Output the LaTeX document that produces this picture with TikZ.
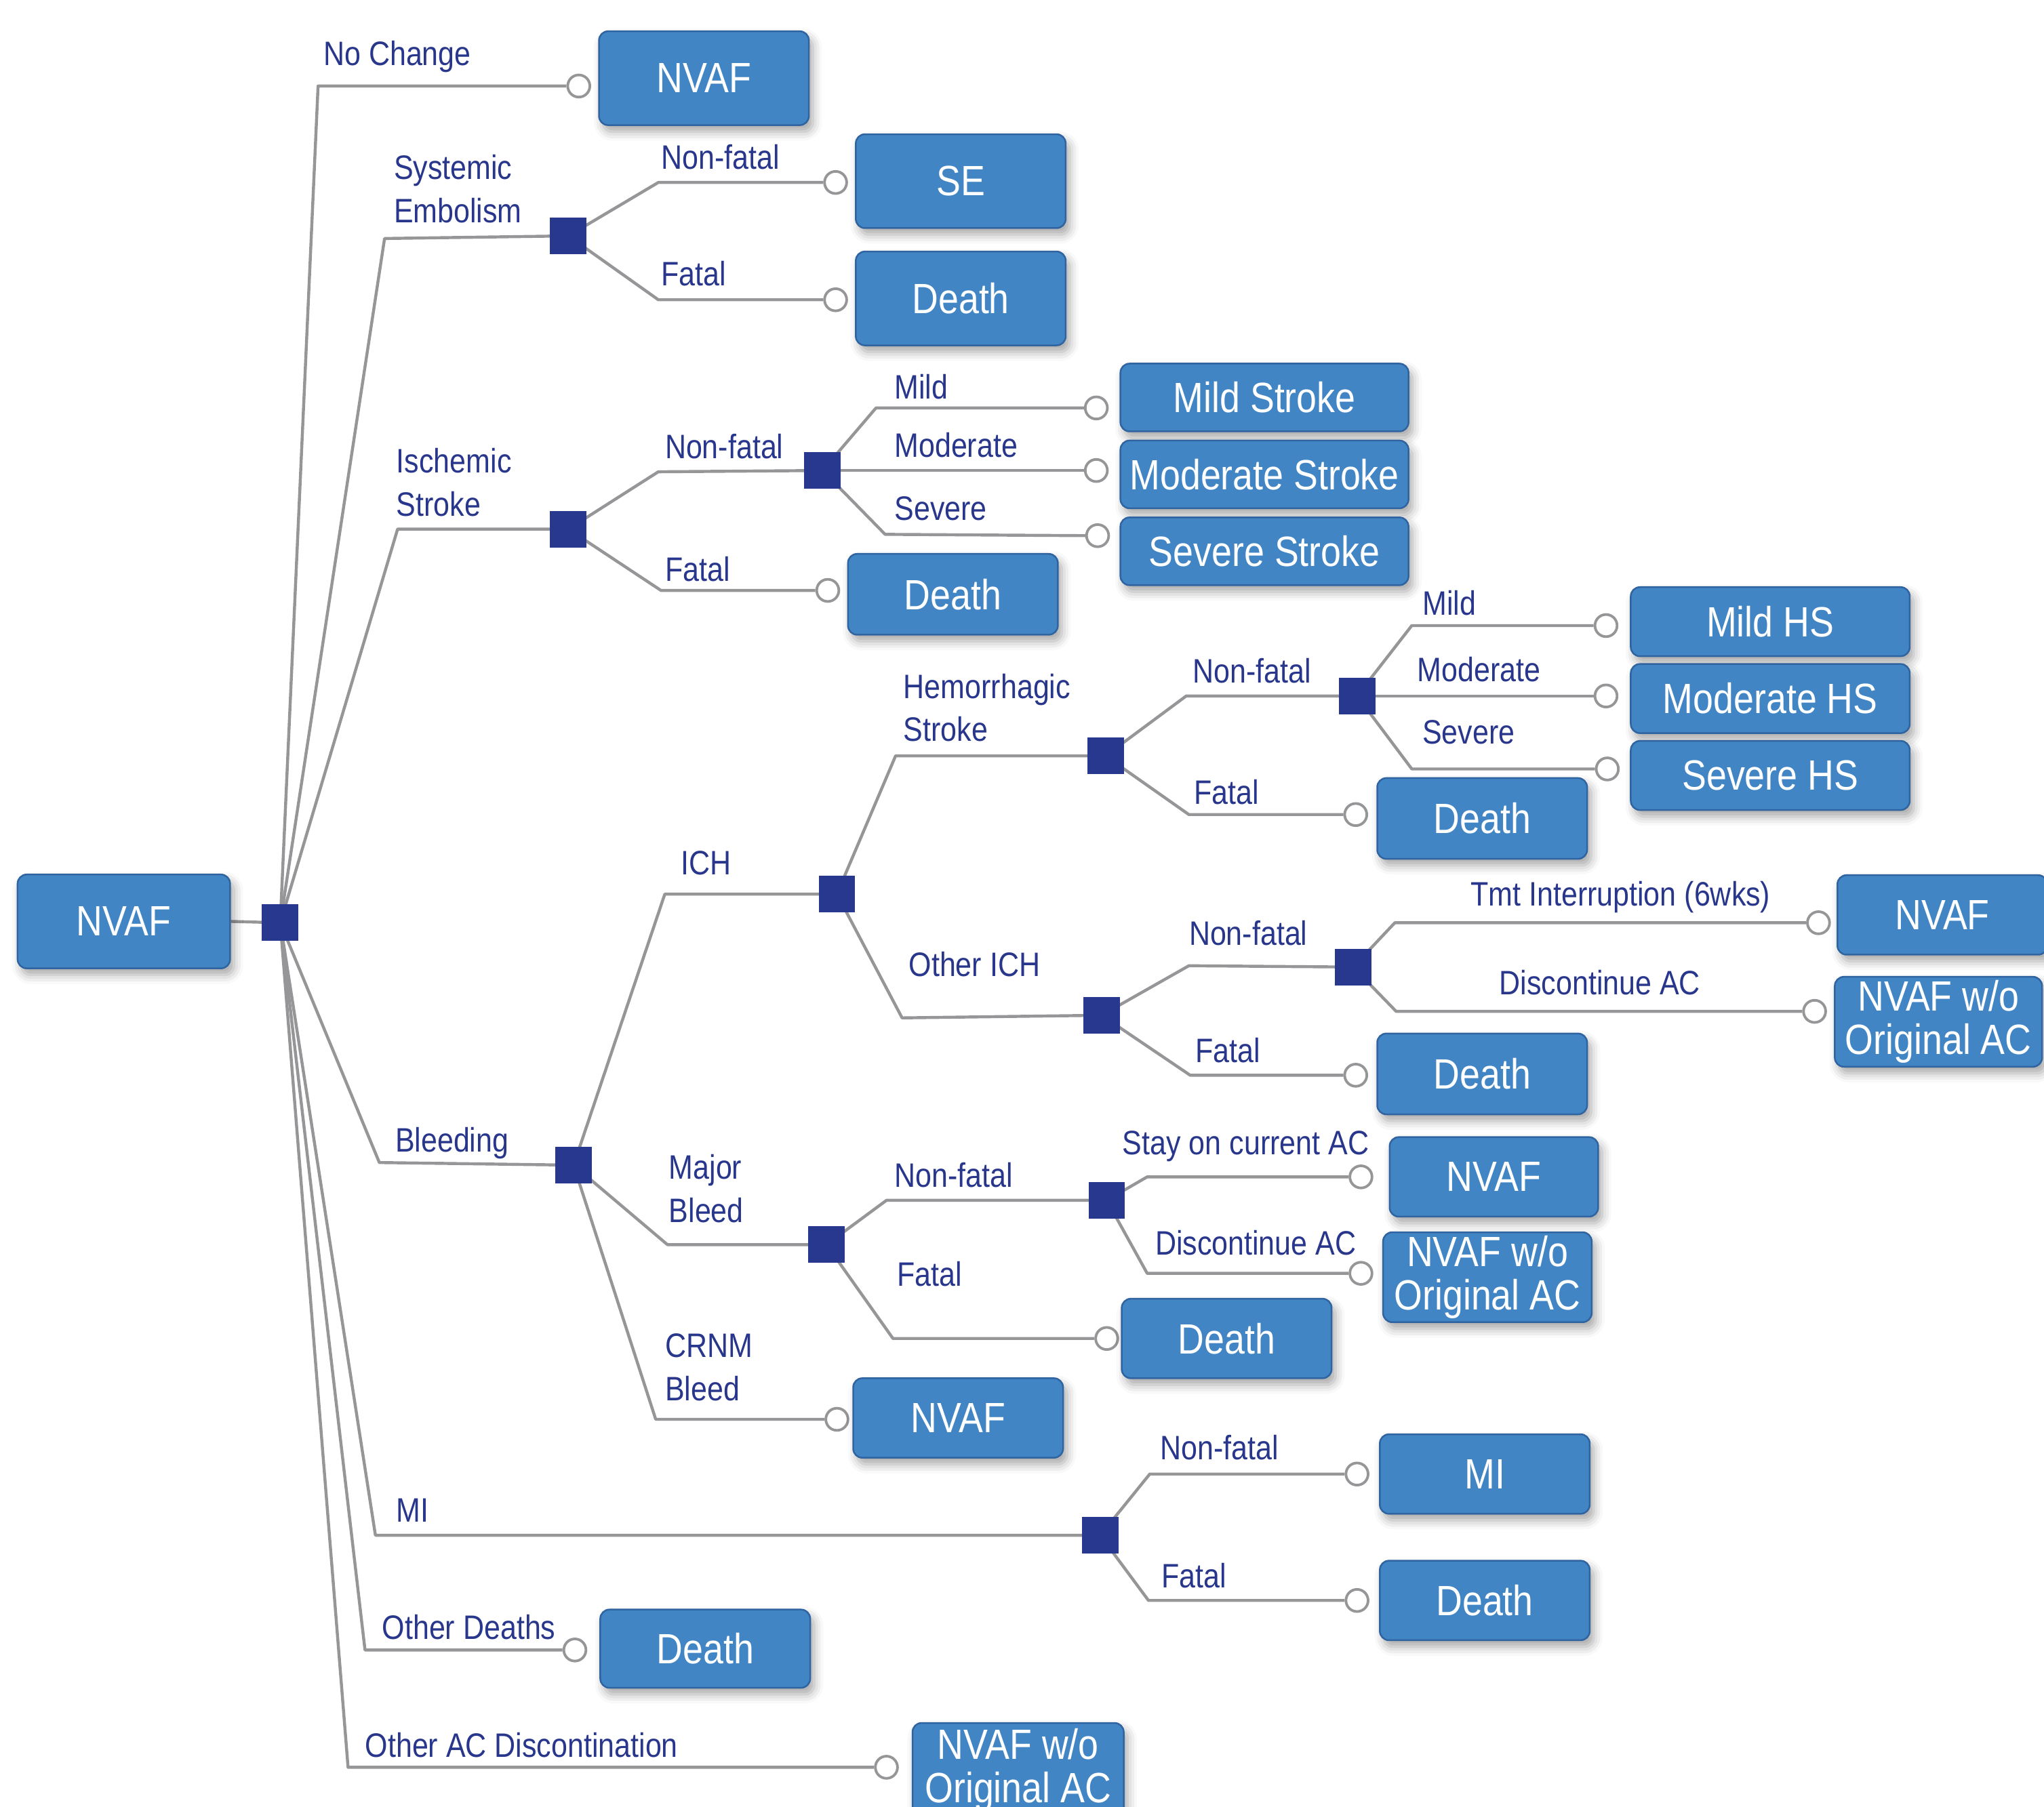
\documentclass[tikz,border=0pt]{standalone}
\usepackage{fontspec}
\setmainfont{Liberation Sans}[FakeStretch=0.86]
\usetikzlibrary{backgrounds,shadows.blur}
\definecolor{boxfill}{RGB}{65,133,197}
\definecolor{boxline}{RGB}{48,100,160}
\definecolor{decfill}{RGB}{40,56,143}
\definecolor{labcol}{RGB}{40,54,140}
\definecolor{edgecol}{RGB}{150,150,153}
\newcommand\lblfnt{\fontsize{26}{33}\selectfont}
\newcommand\bxfnt{\fontsize{32.5}{33}\selectfont}
\begin{document}
\begin{tikzpicture}[x=1pt,y=-1pt,
  box/.style={draw=boxline, line width=1.3pt, fill=boxfill, rounded corners=7pt,
    text=white, font=\bxfnt, align=center, inner sep=2pt,
    blur shadow={shadow xshift=3pt, shadow yshift=-5pt, shadow blur radius=7pt, shadow opacity=35}},
  wh/.style 2 args={minimum width=#1pt, minimum height=#2pt},
  dec/.style={fill=decfill, minimum size=28pt, inner sep=0pt},
  chance/.style={circle, draw=edgecol, line width=2pt, fill=white, minimum size=17pt, inner sep=0pt},
  lab/.style={text=labcol, font=\lblfnt, inner sep=0pt, anchor=base west},
  labtwo/.style={text=labcol, font=\lblfnt, inner sep=0pt, anchor=west, align=left},
  edge/.style={draw=edgecol, line width=2.3pt, line join=round},
]
\useasboundingbox (0,0) rectangle (1568,1386);
\clip (0,0) rectangle (1568,1386);

% root
\node[box, wh={163}{72}] (root) at (95,707) {NVAF};
\node[dec] (r) at (215,708) {};

% No change
\coordinate (kNC) at (244,66);
\node[chance] (cNC) at (444,66) {};
\node[box, wh={161}{72}] (bNC) at (540,60) {NVAF};
\node[lab] (lNC) at (248,50) {No Change};

% Systemic embolism
\coordinate (kSE) at (295,183);
\node[dec] (sSE) at (436,181) {};
\node[labtwo] (lSE) at (302,145) {Systemic\\Embolism};
\coordinate (kSEn) at (505,140);
\coordinate (kSEf) at (505,230);
\node[chance] (cSEn) at (641,140) {};
\node[chance] (cSEf) at (641,230) {};
\node[lab] (lSEn) at (507,130) {Non-fatal};
\node[lab] (lSEf) at (507,219) {Fatal};
\node[box, wh={161}{72}] (bSEn) at (737,139) {SE};
\node[box, wh={161}{72}] (bSEf) at (737,229) {Death};

% Ischemic stroke
\coordinate (kIS) at (305,406);
\node[dec] (sIS) at (436,406) {};
\node[labtwo] (lIS) at (304,370) {Ischemic\\Stroke};
\coordinate (kISn) at (505,362);
\node[dec] (sISn) at (631,361) {};
\node[lab] (lISn) at (510,352) {Non-fatal};
\coordinate (kISf) at (507,453);
\node[chance] (cISf) at (635,453) {};
\node[lab] (lISf) at (510,446) {Fatal};
\node[box, wh={161}{62}] (bISf) at (731,456) {Death};
\coordinate (kISm) at (672,313);
\node[chance] (cISm) at (841,313) {};
\node[lab] (lISm) at (686,306) {Mild};
\node[chance] (cISo) at (841,361) {};
\node[lab] (lISo) at (686,351) {Moderate};
\coordinate (kISs) at (679,410);
\node[chance] (cISs) at (842,411) {};
\node[lab] (lISs) at (686,399) {Severe};
\node[box, wh={221}{52}] (bISm) at (970,305) {Mild Stroke};
\node[box, wh={221}{52}] (bISo) at (970,364) {Moderate Stroke};
\node[box, wh={221}{52}] (bISs) at (970,423) {Severe Stroke};

% Bleeding
\coordinate (kBl) at (291,892);
\node[dec] (sBl) at (440,894) {};
\node[lab] (lBl) at (303,884) {Bleeding};

% ICH
\coordinate (kICH) at (510,686);
\node[dec] (sICH) at (642,686) {};
\node[lab] (lICH) at (522,671) {ICH};

% Hemorrhagic stroke
\coordinate (kHS) at (687,580);
\node[dec] (sHS) at (848,580) {};
\node[labtwo] (lHS) at (693,543) {Hemorrhagic\\Stroke};
\coordinate (kHSn) at (910,534);
\node[dec] (sHSn) at (1041,534) {};
\node[lab] (lHSn) at (915,524) {Non-fatal};
\coordinate (kHSf) at (912,625);
\node[chance] (cHSf) at (1040,625) {};
\node[lab] (lHSf) at (916,617) {Fatal};
\node[box, wh={161}{62}] (bHSf) at (1137,628) {Death};
\coordinate (kHSm) at (1083,480);
\node[chance] (cHSm) at (1232,480) {};
\node[lab] (lHSm) at (1091,472) {Mild};
\node[chance] (cHSo) at (1232,534) {};
\node[lab] (lHSo) at (1087,523) {Moderate};
\coordinate (kHSs) at (1083,590);
\node[chance] (cHSs) at (1233,590) {};
\node[lab] (lHSs) at (1091,571) {Severe};
\node[box, wh={214}{53}] (bHSm) at (1358,477) {Mild HS};
\node[box, wh={214}{53}] (bHSo) at (1358,536) {Moderate HS};
\node[box, wh={214}{53}] (bHSs) at (1358,595) {Severe HS};

% Other ICH
\coordinate (kOI) at (692,781);
\node[dec] (sOI) at (845,779) {};
\node[lab] (lOI) at (697,749) {Other ICH};
\coordinate (kOIn) at (912,741);
\node[dec] (sOIn) at (1038,742) {};
\node[lab] (lOIn) at (912,725) {Non-fatal};
\coordinate (kOIf) at (913,825);
\node[chance] (cOIf) at (1040,825) {};
\node[lab] (lOIf) at (917,815) {Fatal};
\node[box, wh={161}{62}] (bOIf) at (1137,824) {Death};
\coordinate (kOIt) at (1070,708);
\node[chance] (cOIt) at (1395,708) {};
\node[lab] (lOIt) at (1128,695) {Tmt Interruption (6wks)};
\coordinate (kOId) at (1071,776);
\node[chance] (cOId) at (1392,776) {};
\node[lab] (lOId) at (1150,763) {Discontinue AC};
\node[box, wh={161}{61}] (bOIt) at (1490,702) {NVAF};
\node[box, wh={159}{69}] (bOId) at (1487,784) {NVAF w/o\\Original AC};

% Major bleed
\coordinate (kMB) at (512,955);
\node[dec] (sMB) at (634,955) {};
\node[labtwo] (lMB) at (513,912) {Major\\Bleed};
\coordinate (kMBn) at (680,921);
\node[dec] (sMBn) at (849,921) {};
\node[lab] (lMBn) at (686,911) {Non-fatal};
\coordinate (kMBf) at (685,1027);
\node[chance] (cMBf) at (849,1027) {};
\node[lab] (lMBf) at (688,987) {Fatal};
\node[box, wh={161}{61}] (bMBf) at (941,1027) {Death};
\coordinate (kMBs) at (880,903);
\node[chance] (cMBs) at (1044,903) {};
\node[lab] (lMBs) at (861,886) {Stay on current AC};
\coordinate (kMBd) at (880,977);
\node[chance] (cMBd) at (1044,977) {};
\node[lab] (lMBd) at (886,963) {Discontinue AC};
\node[box, wh={160}{61}] (bMBs) at (1146,903) {NVAF};
\node[box, wh={160}{69}] (bMBd) at (1141,980) {NVAF w/o\\Original AC};

% CRNM bleed
\coordinate (kCR) at (503,1089);
\node[chance] (cCR) at (642,1089) {};
\node[labtwo] (lCR) at (510,1049) {CRNM\\Bleed};
\node[box, wh={161}{61}] (bCR) at (735,1088) {NVAF};

% MI
\coordinate (kMI) at (288,1178);
\node[dec] (sMI) at (844,1178) {};
\node[lab] (lMI) at (304,1168) {MI};
\coordinate (kMIn) at (882,1131);
\node[chance] (cMIn) at (1041,1131) {};
\node[lab] (lMIn) at (890,1120) {Non-fatal};
\node[box, wh={161}{61}] (bMIn) at (1139,1131) {MI};
\coordinate (kMIf) at (881,1228);
\node[chance] (cMIf) at (1041,1228) {};
\node[lab] (lMIf) at (891,1218) {Fatal};
\node[box, wh={161}{61}] (bMIf) at (1139,1228) {Death};

% Other deaths
\coordinate (kOD) at (280,1266);
\node[chance] (cOD) at (441,1266) {};
\node[lab] (lOD) at (293,1258) {Other Deaths};
\node[box, wh={161}{60}] (bOD) at (541,1265) {Death};

% Other AC discontinuation
\coordinate (kOA) at (267,1356);
\node[chance] (cOA) at (680,1356) {};
\node[lab] (lOA) at (280,1348) {Other AC Discontination};
\node[box, wh={162}{72}] (bOA) at (781,1358) {NVAF w/o\\Original AC};

\begin{scope}[on background layer]
\draw[edge] (root.east) -- (r.center);
\draw[edge] (r.center) -- (kNC) -- (cNC.west);
\draw[edge] (r.center) -- (kSE) -- (sSE.center);
\draw[edge] (r.center) -- (kIS) -- (sIS.center);
\draw[edge] (r.center) -- (kBl) -- (sBl.center);
\draw[edge] (r.center) -- (kMI) -- (sMI.center);
\draw[edge] (r.center) -- (kOD) -- (cOD.west);
\draw[edge] (r.center) -- (kOA) -- (cOA.west);
% SE
\draw[edge] (sSE.center) -- (kSEn) -- (cSEn.west);
\draw[edge] (sSE.center) -- (kSEf) -- (cSEf.west);
% IS
\draw[edge] (sIS.center) -- (kISn) -- (sISn.center);
\draw[edge] (sIS.center) -- (kISf) -- (cISf.west);
\draw[edge] (sISn.center) -- (kISm) -- (cISm.west);
\draw[edge] (sISn.center) -- (cISo.west);
\draw[edge] (sISn.center) -- (kISs) -- (cISs.west);
% Bleeding
\draw[edge] (sBl.center) -- (kICH) -- (sICH.center);
\draw[edge] (sBl.center) -- (kMB) -- (sMB.center);
\draw[edge] (sBl.center) -- (kCR) -- (cCR.west);
% ICH
\draw[edge] (sICH.center) -- (kHS) -- (sHS.center);
\draw[edge] (sICH.center) -- (kOI) -- (sOI.center);
\draw[edge] (sHS.center) -- (kHSn) -- (sHSn.center);
\draw[edge] (sHS.center) -- (kHSf) -- (cHSf.west);
\draw[edge] (sHSn.center) -- (kHSm) -- (cHSm.west);
\draw[edge] (sHSn.center) -- (cHSo.west);
\draw[edge] (sHSn.center) -- (kHSs) -- (cHSs.west);
\draw[edge] (sOI.center) -- (kOIn) -- (sOIn.center);
\draw[edge] (sOI.center) -- (kOIf) -- (cOIf.west);
\draw[edge] (sOIn.center) -- (kOIt) -- (cOIt.west);
\draw[edge] (sOIn.center) -- (kOId) -- (cOId.west);
% Major bleed
\draw[edge] (sMB.center) -- (kMBn) -- (sMBn.center);
\draw[edge] (sMB.center) -- (kMBf) -- (cMBf.west);
\draw[edge] (sMBn.center) -- (kMBs) -- (cMBs.west);
\draw[edge] (sMBn.center) -- (kMBd) -- (cMBd.west);
% MI
\draw[edge] (sMI.center) -- (kMIn) -- (cMIn.west);
\draw[edge] (sMI.center) -- (kMIf) -- (cMIf.west);
\end{scope}
\end{tikzpicture}
\end{document}
